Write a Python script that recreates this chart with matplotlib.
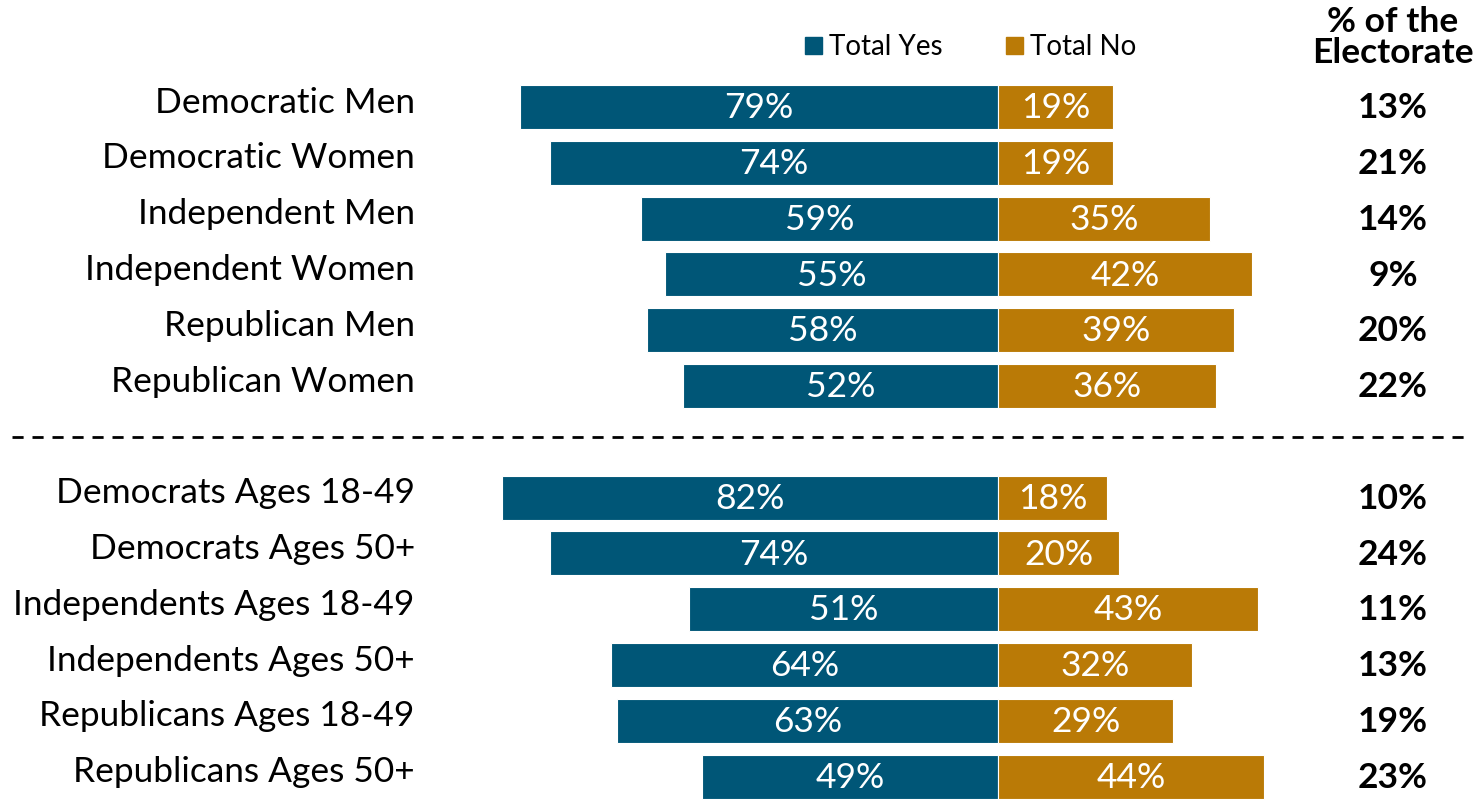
import matplotlib
matplotlib.use('Agg')
from matplotlib import pyplot as plt
from matplotlib.patches import Patch
import numpy as np

# data
groups = ["Democratic Men", "Democratic Women", "Independent Men", "Independent Women",
          "Republican Men", "Republican Women",
          "Democrats Ages 18-49", "Democrats Ages 50+", "Independents Ages 18-49",
          "Independents Ages 50+", "Republicans Ages 18-49", "Republicans Ages 50+"]
total_yes = [79, 74, 59, 55, 58, 52, 82, 74, 51, 64, 63, 49]
total_no = [19, 19, 35, 42, 39, 36, 18, 20, 43, 32, 29, 44]
electorate = [13, 21, 14, 9, 20, 22, 10, 24, 11, 13, 19, 23]

yes_color = "#005677"
no_color = "#BA7A06"

plt.rcParams['font.family'] = ['Lato', 'DejaVu Sans']

fig = plt.figure(figsize=(14.75, 8.01), dpi=100)
ax = fig.add_axes([0, 0, 1, 1])

# row positions: two blocks of six with a gap of one row
rows = np.array(list(range(6)) + list(range(7, 13)))

ax.barh(rows, [-v for v in total_yes], height=0.79, color=yes_color, edgecolor="white", linewidth=0.8)
ax.barh(rows, total_no, height=0.79, color=no_color, edgecolor="white", linewidth=0.8)

for r, g, y, n, e in zip(rows, groups, total_yes, total_no, electorate):
    ax.text(-y / 2, r + 0.02, f"{y}%", ha="center", va="center", color="white", fontsize=25.5)
    ax.text(n / 2, r + 0.02, f"{n}%", ha="center", va="center", color="white", fontsize=25.5)
    ax.text(-96.4, r - 0.08, g, ha="right", va="center", color="black", fontsize=25.4)
    ax.text(65.3, r + 0.02, f"{e}%", ha="center", va="center", color="black", fontsize=25.5, fontweight="bold")

# header for electorate column
ax.text(65.3, -1.25, "% of the\nElectorate", ha="center", va="center", fontsize=25.5,
        fontweight="bold", linespacing=0.95)

# dashed separator
ax.plot([-163, 77], [5.92, 5.92], color="black", linestyle=(0, (4, 3.2)), linewidth=2)

# px scale: 6.05 px per percent, zero at x=998, row pitch 55.8 px, row 0 at y=107
ax.set_xlim(-998 / 6.05, (1475 - 998) / 6.05)
ax.set_ylim((801 - 107) / 55.8, -107 / 55.8)
ax.axis("off")

handles = [Patch(color=yes_color, label="Total Yes"), Patch(color=no_color, label="Total No")]
fig.legend(handles=handles, loc="center", bbox_to_anchor=(0.658, 0.941), ncol=2, frameon=False,
           fontsize=20, handlelength=0.6, handleheight=0.6, handletextpad=0.25, columnspacing=2.3)

fig.savefig("out.png", dpi=100)
